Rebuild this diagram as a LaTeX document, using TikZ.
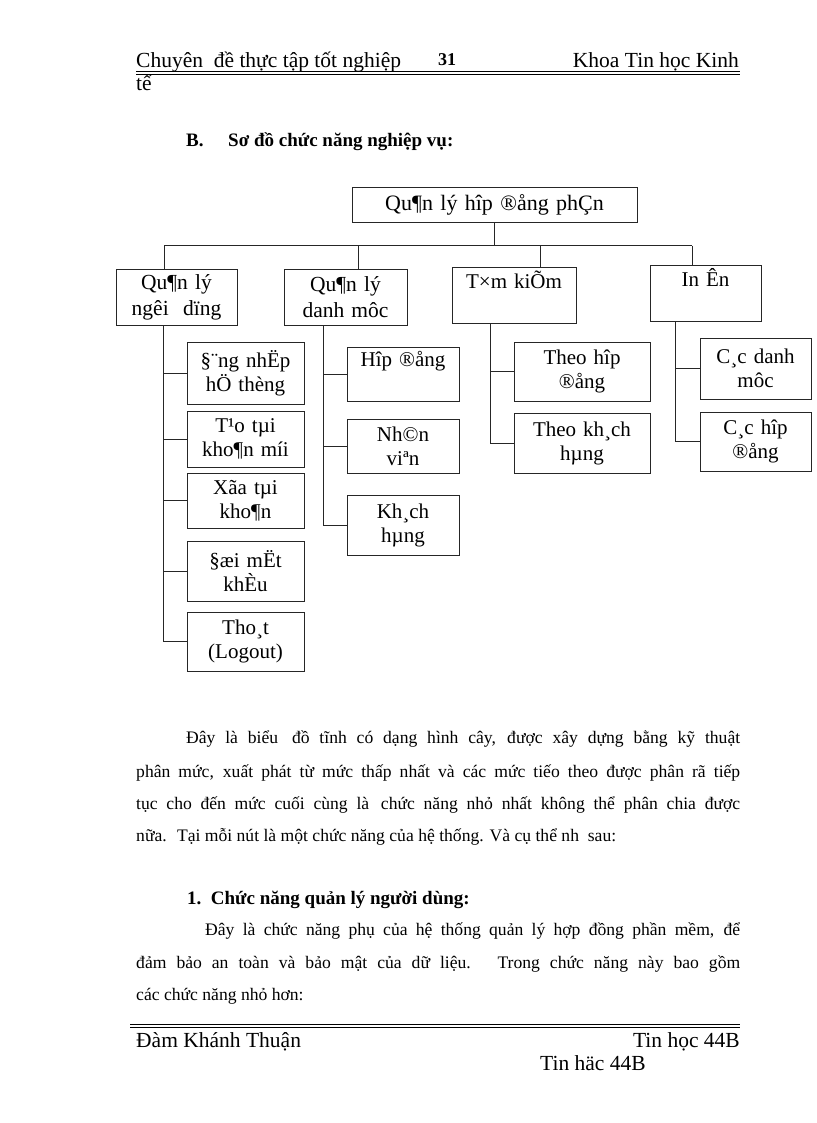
\documentclass[tikz,border=0pt]{standalone}
\usepackage{fontspec}
\setmainfont{Liberation Serif}
\usetikzlibrary{calc}

\newcommand{\boxfont}{\fontsize{21}{24}\selectfont}
\newcommand{\bodyfont}{\fontsize{17.6}{22}\selectfont}
\newcommand{\headfont}{\fontsize{21.5}{24}\selectfont}

\begin{document}
\begin{tikzpicture}[x=1pt, y=-1pt,
    % --- Styles ---
    func box/.style={draw=black!85, line width=0.9pt, inner sep=0pt, align=center, font=\boxfont},
    % Level one boxes have a wider line gap
    group box/.style={func box, font=\fontsize{21.5}{26}\selectfont},
    % Page texts sit on their base line
    page text/.style={inner sep=0pt, anchor=base west, font=\bodyfont},
    title text/.style={page text, font=\fontsize{19}{22}\selectfont\bfseries},
    tree line/.style={draw=black!85, line width=0.9pt}
]

%================PAGE=========================
\useasboundingbox[fill=white] (0,0) rectangle (816,1123);
%=============================================

% --- 1. Header ---
\node[page text, font=\headfont] (hl) at (136,68) {Chuyên \ đề thực tập tốt nghiệp};
\node[page text, font=\bfseries\fontsize{18}{20}\selectfont] (hn) at (438,66) {31};
\node[page text, font=\headfont, anchor=base east] (hr) at (739,68) {Khoa Tin học Kinh};
\node[page text, font=\headfont] (hl2) at (136,91) {tế};
\draw[line width=1.4pt] (136,71.5) -- (740,71.5);
\draw[line width=0.6pt] (136,74) -- (740,74);

% --- 2. Section title ---
\node[title text] (secB) at (186,147) {B.};
\node[title text] (secT) at (228,147) {Sơ đồ chức năng nghiệp vụ:};

% --- 3. Tree: root and level one ---
\node[func box, text width=285, minimum height=35, font=\fontsize{22}{24}\selectfont] (root) at (494.5,204.5) {Qu¶n lý hîp ®ång phÇn};

\node[group box, text width=121, minimum height=56] (b1) at (176.5,297) {Qu¶n lý\\ngêi \ dïng};
\node[group box, text width=123, minimum height=56] (b2) at (345.5,297) {Qu¶n lý\\danh môc};
\node[func box, text width=124, minimum height=56] (b3) at (514,295) {T×m kiÕm\\\strut};
\node[func box, text width=111, minimum height=56] (b4) at (705.5,293) {In Ên\\\strut};

% Drop points on the bus
\coordinate (d1) at (164,245.5);
\coordinate (d2) at (358,245.5);
\coordinate (d3) at (540,245.5);
\coordinate (d4) at (692,245.5);

\draw[tree line] (root.south) -- (root.south |- d1);
\draw[tree line] (d1) -- (d4);
\foreach \k in {1,...,4}
    \draw[tree line] (d\k) -- (d\k |- b\k.north);

% --- 4. Level two ---
% Column 1: users
\foreach \n/\y/\h/\t in {u1/373/62/{§¨ng nhËp\\hÖ thèng},
                          u2/439/56/{T¹o tµi\\kho¶n míi},
                          u3/500.5/55/{Xãa tµi\\kho¶n},
                          u4/571/60/{§æi mËt\\khÈu},
                          u5/641.5/59/{Tho¸t\\(Logout)}}
    \node[func box, text width=117, minimum height=\h] (\n) at (245.5,\y) {\t};

% Column 2: lists
\foreach \n/\y/\h/\t in {m1/374/54/{Hîp ®ång\\\strut},
                          m2/446/54/{Nh©n\\viªn},
                          m3/525/60/{Kh¸ch\\hµng}}
    \node[func box, text width=112, minimum height=\h] (\n) at (403,\y) {\t};

% Column 3: search
\foreach \n/\y/\h/\t in {s1/371.5/59/{Theo hîp\\®ång},
                          s2/443/60/{Theo kh¸ch\\hµng}}
    \node[func box, text width=136, minimum height=\h] (\n) at (582,\y) {\t};

% Column 4: print
\foreach \n/\y/\h/\t in {p1/368.5/61/{C¸c danh\\môc},
                          p2/441.5/59/{C¸c hîp\\®ång}}
    \node[func box, text width=111, minimum height=\h] (\n) at (755.5,\y) {\t};

% Spines under level one
\coordinate (v1) at (163,0);
\coordinate (v2) at (323,0);
\coordinate (v3) at (490,0);
\coordinate (v4) at (675,0);

\draw[tree line] (v1 |- b1.south) |- (u5.west);
\draw[tree line] (v2 |- b2.south) |- (m3.west);
\draw[tree line] (v3 |- b3.south) |- (s2.west);
\draw[tree line] (v4 |- b4.south) |- (p2.west);

\foreach \n in {u1,u2,u3,u4}
    \draw[tree line] (v1 |- \n.west) -- (\n.west);
\foreach \n in {m1,m2}
    \draw[tree line] (v2 |- \n.west) -- (\n.west);
\draw[tree line] (v3 |- s1.west) -- (s1.west);
\draw[tree line] (v4 |- p1.west) -- (p1.west);

% --- 5. Body text ---
\node[page text] (t1) at (186,743) {\makebox[554pt][s]{Đây là biểu\hspace{4pt} đồ tĩnh có dạng hình cây, được xây dựng bằng kỹ thuật}};
\node[page text] (t2) at (136,777) {\makebox[604pt][s]{phân mức, xuất phát từ mức thấp nhất và các mức tiếo theo được phân rã tiếp}};
\node[page text] (t3) at (136,809) {\makebox[604pt][s]{tục cho đến mức cuối cùng là\hspace{3pt} chức năng nhỏ nhất không thể phân chia được}};
\node[page text] (t4) at (136,841) {nữa. \ Tại mỗi nút là một chức năng của hệ thống. Và cụ thể nh \ sau:};

\node[title text] (h1) at (187,904) {1.\ \ Chức năng quản lý người dùng:};
\node[page text] (q1) at (205,935) {\makebox[535pt][s]{Đây là chức năng phụ của hệ thống quản lý hợp đồng phần mềm, để}};
\node[page text] (q2) at (136,968) {\makebox[604pt][s]{đảm bảo an toàn và bảo mật của dữ liệu.\hspace{4pt} Trong chức năng này bao gồm}};
\node[page text] (q3) at (136,1000) {các chức năng nhỏ hơn:};

% --- 6. Footer ---
\draw[line width=0.8pt] (130,1024) -- (740,1024);
\draw[line width=0.8pt] (130,1027) -- (740,1027);
\node[page text, font=\headfont] (f1) at (136,1047) {Đàm Khánh Thuận};
\node[page text, font=\headfont, anchor=base east] (f2) at (740,1047) {Tin học 44B};
\node[page text, font=\headfont] (f3) at (540,1070) {Tin häc 44B};

\end{tikzpicture}
\end{document}
